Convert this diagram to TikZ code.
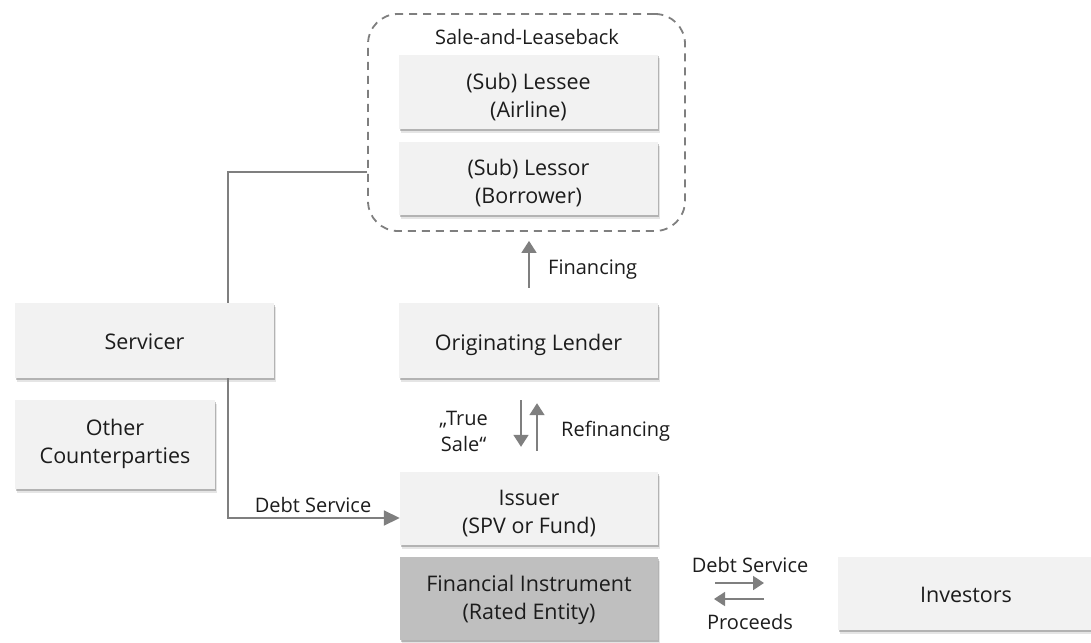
\documentclass[tikz,border=0pt]{standalone}
\usepackage{fontspec}
\setmainfont{Open Sans}
\usetikzlibrary{arrows.meta,shadows}
\definecolor{boxfill}{HTML}{F2F2F2}
\definecolor{darkfill}{HTML}{BFBFBF}
\definecolor{linegray}{HTML}{7F7F7F}
\definecolor{txt}{HTML}{1C1C1C}
\tikzset{
  softshadow/.style={
    drop shadow={shadow xshift=1pt,shadow yshift=-1.5pt,opacity=0.22,fill=black},
    drop shadow={shadow xshift=2pt,shadow yshift=-3.5pt,opacity=0.10,fill=black}},
  entity/.style={softshadow,fill=boxfill,draw=none,minimum width=259pt,
    minimum height=74pt,inner sep=0pt},
  rated/.style={entity,fill=darkfill},
  entitytext/.style={text=txt,inner sep=0pt,align=center,text depth=0pt,
    font=\fontsize{21.5}{28}\selectfont},
  label/.style={text=txt,inner sep=0pt,align=center,
    font=\fontsize{20}{26}\selectfont},
  link/.style={draw=linegray,line width=1.8pt},
  flow/.style={link,-{Triangle[width=15pt,length=12pt]}},
  bigflow/.style={link,-{Triangle[width=15pt,length=16pt]}},
  group/.style={draw=linegray,line width=1.8pt,dash pattern=on 8pt off 6pt,
    rounded corners=30pt}
}
\begin{document}
\begin{tikzpicture}[x=1pt,y=-1pt]
\useasboundingbox (0,0) rectangle (1091,642);

% sale-and-leaseback group
\node[group,minimum width=317pt,minimum height=217pt] (slb) at (526.5,122.5) {};
\node[label] (slbtitle) at (527,37) {Sale-and-Leaseback};
\node[entity] (lessee) at (528.5,92) {};
\node[entitytext] (lessee-t) at ([yshift=-3pt]lessee.center) {(Sub) Lessee\\(Airline)};
\node[entity,minimum height=73pt] (lessor) at (528.5,178.5) {};
\node[entitytext] (lessor-t) at ([yshift=-3pt]lessor.center) {(Sub) Lessor\\(Borrower)};

% main chain
\node[entity,minimum height=75pt] (lender) at (528.5,340.5) {};
\node[entitytext] (lender-t) at ([yshift=-2pt]lender.center) {Originating Lender};
\node[entity,minimum width=258pt,minimum height=73pt] (issuer) at (529,508.5) {};
\node[entitytext] (issuer-t) at ([yshift=-3.5pt]issuer.center) {Issuer\\(SPV or Fund)};
\node[rated,minimum width=258pt,minimum height=83pt] (instr) at (529,598.5) {};
\node[entitytext] (instr-t) at ([yshift=1.5pt]instr.center) {Financial Instrument\\(Rated Entity)};

% left column
\node[entity,minimum height=75pt] (servicer) at (144.5,340.5) {};
\node[entitytext] (servicer-t) at ([yshift=-1.5pt]servicer.center) {Servicer};
\node[entity,minimum width=200pt,minimum height=89pt] (others) at (115,444.5) {};
\node[entitytext] (others-t) at ([yshift=3pt]others.center) {Other\\Counterparties};

% investors
\node[entity,minimum width=256pt,minimum height=73pt] (investors) at (966,593.5) {};
\node[entitytext] (investors-t) at ([yshift=-1.5pt]investors.center) {Investors};

% financing
\draw[flow,shorten <=15pt,shorten >=9pt] (lender.north -| 529,0) -- (slb.south -| 529,0);
\node[label,anchor=west] (fintxt) at (548,270) {Financing};

% true sale / refinancing
\draw[flow,shorten <=22pt,shorten >=25pt] (lender.south -| 521,0) -- (issuer.north -| 521,0);
\draw[flow,shorten <=21pt,shorten >=25pt] (issuer.north -| 537,0) -- (lender.south -| 537,0);
\node[label,anchor=east] (truesale) at (488,431) {„True\\Sale“};
\node[label,anchor=west] (refin) at (561,431) {Refinancing};

% servicer links
\coordinate (corner1) at (228,172);
\coordinate (corner2) at (228,518);
\draw[link] (slb.west |- corner1) -- (corner1) -- (servicer.north -| corner1);
\draw[bigflow] (servicer.south -| corner2) -- (corner2) -- (issuer.west |- corner2);
\node[label] (dstxt) at (313,505) {Debt Service};

% investor flows
\coordinate (ra) at (715,583);
\coordinate (rb) at (764,583);
\coordinate (la) at (764,599);
\coordinate (lb) at (714,599);
\draw[link,-{Triangle[width=14pt,length=11pt]}] (ra) -- (rb);
\draw[link,-{Triangle[width=14pt,length=11pt]}] (la) -- (lb);
\node[label] (dsinv) at (750,565) {Debt Service};
\node[label] (proceeds) at (750,622) {Proceeds};
\end{tikzpicture}
\end{document}
